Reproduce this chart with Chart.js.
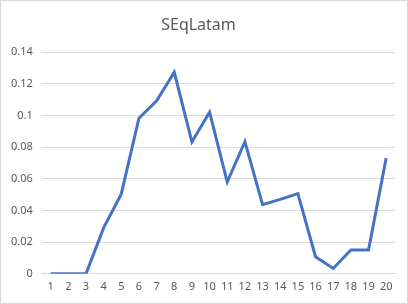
<!DOCTYPE html>
<html>
<head>
<meta charset="utf-8">
<script src="https://cdn.jsdelivr.net/npm/chart.js"></script>
<style>
  html, body { margin: 0; padding: 0; background: #fff; }
  #wrap { position: relative; width: 406px; height: 302px; border: 1px solid #d9d9d9; }
</style>
</head>
<body>
<div id="wrap"><canvas id="chart"></canvas></div>
<script>
// values
const categories = ["1","2","3","4","5","6","7","8","9","10","11","12","13","14","15","16","17","18","19","20"];
const seqLatam = [0, 0, 0, 0.029, 0.0505, 0.0983, 0.1093, 0.1273, 0.0833, 0.1021, 0.058, 0.0835, 0.0437, 0.047, 0.0507, 0.0108, 0.0034, 0.015, 0.015, 0.0731];

const grey = "#595959";
new Chart(document.getElementById("chart").getContext("2d"), {
    type: "line",
    data: {
        labels: categories,
        datasets: [{
            label: "SEqLatam",
            data: seqLatam,
            borderColor: "#4472C4",
            borderWidth: 3,
            pointRadius: 0,
            tension: 0,
            fill: false
        }]
    },
    options: {
        responsive: true,
        maintainAspectRatio: false,
        animation: false,
        layout: { padding: { left: 1, right: 12, top: 10, bottom: 4 } },
        plugins: {
            legend: { display: false },
            tooltip: { enabled: false },
            title: {
                display: true,
                text: "SEqLatam",
                color: grey,
                font: { family: "Noto Sans", size: 16, weight: "normal" },
                padding: { top: 5, bottom: 17 }
            }
        },
        scales: {
            x: {
                offset: true,
                grid: { display: false, drawTicks: false },
                border: { display: true, color: "#d9d9d9", width: 1 },
                ticks: {
                    color: grey,
                    font: { family: "Noto Sans", size: 11 },
                    padding: 6,
                    maxRotation: 0,
                    autoSkip: false
                }
            },
            y: {
                min: 0,
                max: 0.14,
                grid: { color: "#d9d9d9", drawTicks: false },
                border: { display: false },
                ticks: {
                    stepSize: 0.02,
                    color: grey,
                    font: { family: "Noto Sans", size: 11 },
                    padding: 9,
                    callback: (v) => String(+v.toFixed(2))
                }
            }
        }
    }
});
</script>
</body>
</html>
